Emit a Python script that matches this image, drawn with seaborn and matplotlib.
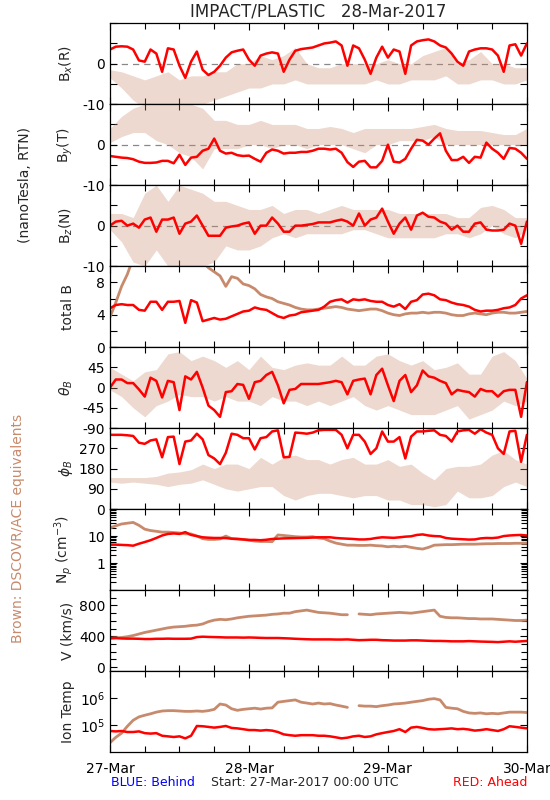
import numpy as np
import matplotlib
matplotlib.use('Agg')
import matplotlib.pyplot as plt
import seaborn as sns
from matplotlib.ticker import FixedLocator, MultipleLocator, LogLocator, NullFormatter

# hours since 27-Mar-2017 00:00 UTC
hours = np.arange(0, 73)
hours2 = np.arange(0, 73, 2)

day_ticks = [0, 24, 48, 72]
day_labels = ['27-Mar', '28-Mar', '29-Mar', '30-Mar']

# --- STEREO Ahead (red), hourly ---
bx_red = [3.5, 4.2, 4.3, 4.2, 3.5, 0.8, 0.5, 3.5, 2.5, -2.0, 3.8, 3.5, -0.5, -3.5, 0.5, 3.0,
          -1.5, -2.8, -2.0, -0.5, 1.5, 2.8, 3.2, 3.5, 1.0, -0.5, 2.0, 2.5, 2.8, 2.5, -2.0, 1.0,
          3.2, 3.6, 3.8, 4.0, 4.5, 5.0, 5.2, 5.5, 4.5, -0.5, 4.5, 3.8, 1.0, -2.5, 1.5, 4.2,
          1.5, 3.5, 3.0, -2.5, 4.5, 5.5, 5.8, 6.0, 5.5, 4.5, 4.0, 2.5, 0.5, -0.5, 3.0, 3.5,
          3.8, 3.8, 3.5, 2.0, -2.0, 4.5, 4.8, 2.0, 5.0]
by_red = [-2.8, -3.0, -3.2, -3.3, -3.6, -4.2, -4.5, -4.5, -4.4, -4.0, -4.0, -4.6, -2.5, -5.0,
          -3.2, -3.0, -1.5, -1.0, 1.5, -1.5, -2.2, -2.0, -2.6, -2.8, -2.7, -3.5, -4.2, -2.0,
          -1.2, -1.5, -2.2, -2.0, -2.0, -1.8, -1.8, -1.5, -1.0, -1.0, -1.2, -1.0, -2.0, -4.3,
          -5.5, -4.2, -4.0, -5.6, -5.6, -4.0, 0.0, -4.2, -4.4, -3.5, -1.0, 1.2, 1.0, 0.0, 1.5,
          2.8, -1.5, -3.8, -3.8, -3.0, -4.5, -3.0, -3.2, 0.5, -1.0, -2.0, -3.5, -0.8, -1.0,
          -2.0, -3.5]
bz_red = [0.0, 1.0, 1.2, 0.0, 0.5, -0.5, 1.5, 2.0, -1.5, 1.5, 1.5, 2.0, -2.0, 0.5, 1.0, 2.5,
          0.0, -2.5, -2.5, -2.5, -0.5, -0.2, 0.0, 0.5, 0.8, -2.0, 0.0, 0.0, 2.0, 0.5, -1.5, -1.5,
          0.0, 0.0, 0.2, 0.4, 0.8, 0.8, 0.8, 1.2, 1.5, 1.0, 0.0, 3.0, 0.0, 1.5, 2.0, 4.2,
          1.0, -2.0, 0.5, 2.0, -1.0, 2.5, 3.2, 2.2, 2.0, 1.0, 0.5, -1.0, 0.0, -1.5, -1.5, 0.5,
          0.8, -1.0, -1.2, -1.2, -1.0, 0.5, 0.0, -4.5, 1.0]
bt_red = [4.8, 5.2, 5.3, 5.2, 5.2, 4.6, 4.5, 5.6, 5.6, 4.6, 5.6, 5.6, 5.7, 3.0, 5.8, 5.5,
          3.2, 3.4, 3.6, 3.4, 3.5, 3.8, 4.1, 4.4, 4.5, 4.9, 4.7, 4.6, 4.2, 3.8, 3.6, 3.9,
          4.0, 4.3, 4.4, 4.5, 4.6, 5.0, 5.6, 5.8, 5.9, 5.5, 5.9, 5.8, 5.9, 5.7, 5.6, 5.6,
          5.2, 5.0, 5.3, 4.7, 5.6, 5.8, 6.5, 6.6, 6.4, 5.9, 5.8, 5.5, 5.3, 5.2, 5.0, 4.6,
          4.4, 4.5, 4.5, 4.6, 4.8, 4.9, 5.2, 6.0, 6.4]
theta_red = [0, 18, 18, 10, 10, -4, -20, 22, 15, -22, 15, 12, -50, 25, 18, 35,
             0, -40, -50, -65, -10, -8, 8, 6, -25, 12, 15, 28, 35, 5, -35, -5,
             -3, 8, 8, 8, 8, 10, 12, 15, 12, -15, 15, 18, 20, -15, 28, 42,
             5, -30, 15, 28, -10, 5, 38, 25, 22, 15, 10, -15, -5, -8, -10, -20,
             -3, -8, -8, -20, -8, -5, -5, -65, 12]
phi_red = [330, 330, 330, 328, 325, 295, 290, 305, 310, 230, 320, 322, 200, 300, 305, 335,
           310, 240, 225, 200, 250, 335, 330, 315, 315, 265, 315, 320, 345, 350, 230, 232,
           340, 338, 335, 340, 350, 352, 352, 352, 330, 270, 330, 330, 300, 245, 270, 345,
           300, 300, 320, 225, 322, 345, 345, 348, 350, 330, 325, 300, 345, 350, 352, 335,
           355, 340, 330, 270, 245, 345, 348, 210, 330]
np_red = [4.8, 4.8, 4.7, 4.6, 4.4, 5.2, 6.0, 7.0, 8.5, 10.5, 12, 12.5, 12, 14, 11, 10,
          9, 8.7, 8.5, 8.5, 8.4, 8.0, 7.8, 7.5, 7.2, 7.2, 7.0, 7.3, 7.8, 8.0, 8.2, 8.3,
          8.4, 8.5, 8.6, 8.8, 9.0, 9.0, 9.0, 8.5, 8.2, 8.0, 7.8, 7.5, 7.5, 7.8, 8.5, 9.0,
          8.8, 8.6, 9.0, 9.5, 9.8, 11, 11.5, 10.5, 10, 9.8, 8.5, 8.0, 7.8, 7.6, 7.4, 7.5,
          8.2, 8.5, 8.4, 8.8, 10, 10.5, 10.8, 11, 10.5]
v_red = [375, 378, 372, 370, 370, 368, 365, 365, 368, 368, 370, 368, 368, 368, 370, 390,
         395, 392, 390, 388, 385, 385, 385, 383, 385, 383, 380, 378, 378, 378, 375, 372,
         368, 365, 362, 360, 360, 360, 360, 358, 358, 360, 355, 350, 352, 355, 355, 350,
         348, 345, 345, 345, 348, 348, 345, 342, 340, 340, 338, 335, 335, 335, 338, 335,
         332, 330, 328, 325, 330, 335, 330, 335, 340]
t_red = [60e3, 58e3, 60e3, 55e3, 55e3, 58e3, 50e3, 48e3, 50e3, 40e3, 38e3, 36e3, 38e3, 32e3,
         40e3, 92e3, 90e3, 85e3, 80e3, 85e3, 92e3, 78e3, 75e3, 70e3, 65e3, 65e3, 62e3, 65e3,
         62e3, 55e3, 45e3, 42e3, 40e3, 42e3, 42e3, 42e3, 40e3, 40e3, 38e3, 35e3, 32e3, 34e3,
         38e3, 40e3, 36e3, 38e3, 45e3, 50e3, 55e3, 60e3, 70e3, 55e3, 80e3, 85e3, 78e3, 70e3,
         68e3, 70e3, 72e3, 75e3, 70e3, 72e3, 68e3, 62e3, 65e3, 70e3, 65e3, 60e3, 70e3, 90e3,
         85e3, 80e3, 75e3]

# --- DSCOVR/ACE equivalents (brown): scatter envelopes every 2 h ---
bx_brn_lo = [-3.5, -6, -9, -11, -11, -11, -11, -10, -10, -9, -8, -7, -6, -6, -5, -5, -4, -5, -5,
             -5, -5, -5, -5, -4, -5, -5, -4, -4, -4, -3, -5, -5, -4, -4, -5, -5, -4]
bx_brn_hi = [-1.5, -2, -3, -4, -3, -2, -4, -3, -3, -2, -2, 0, 0, 2, 1, 2, 4, 0, -1,
             -1, 0, 0, 0, 0, 1, 0, 0, 2, 3, 4, 0, 1, 3, 0, 0, -1, -1]
by_brn_lo = [0.5, 2, 3, 3, 1, 0, -2, -3, -6, -1, -1, -1, 0, 0, -1, 0, 0, -1, 0,
             0, 0, -1, -2, 0, 0, 1, 1, 1, 2, 0, 0, 0, 0, 0, 0, 0, 0]
by_brn_hi = [4, 7, 9, 10, 10, 10, 10, 10, 9, 6, 6, 5, 5, 6, 5, 5, 5, 4, 4,
             4.5, 4, 3, 4, 4, 4, 4, 4, 4.5, 5, 4, 3.5, 3.5, 3.5, 3, 2.5, 2.5, 4]
bz_brn_lo = [-1, -4, -9, -10, -6, -10, -10, -10, -10, -9, -5, -6, -6, -5, -3, -2, -3, -2, -2,
             -2, -2, -1, -1, -2, -3, -3, -3, -3, -3, -2, -2, -3, -2, 0, -2, -3, -1]
bz_brn_hi = [3, 3, 2, 8, 10, 6, 10, 9, 8, 6, 6, 5, 4, 4, 5, 3, 4, 4, 3,
             4, 5, 4, 4, 4, 4, 3, 3, 3, 3, 3, 2, 2, 4.5, 5, 4, 2, 2]
theta_brn_lo = [-5, -20, -45, -65, -40, -30, -15, -20, -20, -30, -20, -30, -30, -40, -20, -30,
                -30, -40, -30, -40, -30, -20, -40, -50, -40, -50, -60, -60, -60, -50, -40,
                -70, -60, -50, -30, -40, -30]
theta_brn_hi = [45, 30, 15, 35, 40, 75, 80, 60, 70, 60, 45, 60, 40, 70, 45, 40, 50, 55, 50,
                50, 70, 50, 50, 70, 75, 60, 50, 60, 40, 45, 55, 30, 30, 70, 80, 60, 20]
phi_brn_lo = [120, 115, 120, 115, 110, 100, 110, 115, 130, 110, 90, 80, 90, 100, 100, 60, 40,
              60, 70, 70, 60, 50, 60, 60, 40, 40, 20, 20, 10, 20, 80, 50, 50, 60, 100, 120, 100]
phi_brn_hi = [140, 140, 140, 140, 145, 160, 165, 175, 200, 180, 200, 200, 180, 230, 200, 230,
              240, 220, 220, 200, 220, 230, 200, 200, 220, 190, 200, 160, 130, 180, 190, 190,
              200, 240, 260, 220, 200]

# --- brown, hourly (smooth quantities) ---
bt_brn = [3.7, 5.5, 7.5, 9.0, 11, 11, 11, 11, 11, 11, 11, 11, 11, 11, 11, 11,
          10.5, 9.8, 9.3, 8.8, 7.5, 8.7, 8.5, 7.8, 7.6, 7.2, 6.5, 6.2, 6.0, 5.6, 5.4, 5.2,
          4.9, 4.7, 4.6, 4.6, 4.7, 4.8, 4.9, 5.0, 4.9, 4.7, 4.6, 4.5, 4.6, 4.7, 4.7, 4.5,
          4.2, 4.0, 3.9, 4.1, 4.2, 4.2, 4.3, 4.2, 4.3, 4.3, 4.2, 4.0, 3.9, 3.9, 4.1, 4.2,
          4.1, 4.0, 4.2, 4.3, 4.3, 4.2, 4.2, 4.3, 4.4]
np_brn = [20, 24, 28, 30, 32, 25, 18, 16, 15, 14, 14, 13.5, 13, 12, 12, 10,
          8, 7.5, 7.5, 7.8, 10, 8, 7.8, 7.5, 7.0, 6.5, 6.3, 6.3, 6.2, 11, 10.5, 10,
          9.5, 9.2, 9.2, 9.5, 8.5, 8.0, 6.5, 5.5, 5.0, 4.6, 4.6, 4.5, 4.5, 4.6, 4.4, 4.3,
          4.0, 4.2, 4.0, 4.2, 3.8, 3.5, 3.3, 3.8, 4.6, 4.7, 4.8, 4.8, 4.9, 5.0, 5.0, 5.0,
          5.1, 5.2, 5.2, 5.3, 5.3, 5.3, 5.4, 5.4, 5.4]
v_brn = [375, 380, 385, 395, 410, 430, 450, 465, 480, 495, 510, 520, 525, 530, 540, 545,
         560, 590, 610, 620, 615, 625, 640, 650, 660, 665, 670, 675, 685, 690, 700, 700,
         720, 730, 740, 725, 710, 705, 700, 690, 680, 680, np.nan, 690, 685, 680, 690, 695,
         700, 705, 710, 705, 700, 710, 720, 730, 740, 660, 645, 640, 640, 635, 630, 630,
         625, 625, 625, 620, 615, 610, 605, 605, 610]
t_brn = [22e3, 35e3, 50e3, 90e3, 150e3, 200e3, 230e3, 260e3, 300e3, 330e3, 340e3, 340e3,
         330e3, 320e3, 320e3, 330e3, 320e3, 340e3, 380e3, 600e3, 550e3, 400e3, 350e3, 380e3,
         400e3, 420e3, 390e3, 420e3, 430e3, 700e3, 750e3, 800e3, 850e3, 700e3, 650e3, 600e3,
         650e3, 600e3, 620e3, 550e3, 500e3, 450e3, np.nan, 520e3, 500e3, 500e3, 480e3, 520e3,
         550e3, 600e3, 620e3, 650e3, 700e3, 750e3, 800e3, 900e3, 950e3, 850e3, 450e3, 420e3,
         400e3, 320e3, 280e3, 270e3, 280e3, 260e3, 270e3, 260e3, 280e3, 300e3, 300e3, 300e3,
         290e3]

RED = '#FF0000'
BROWN = '#C88A6C'

sns.set_theme(style='white')
plt.rcParams['font.family'] = ['DejaVu Sans']
plt.rcParams['font.size'] = 10

fig, axes = plt.subplots(9, 1, figsize=(5.5, 8), dpi=100, sharex=True)
fig.subplots_adjust(left=0.2, right=0.958, top=0.971, bottom=0.06, hspace=0)

noisy = [
    (axes[0], bx_red, bx_brn_lo, bx_brn_hi),
    (axes[1], by_red, by_brn_lo, by_brn_hi),
    (axes[2], bz_red, bz_brn_lo, bz_brn_hi),
    (axes[4], theta_red, theta_brn_lo, theta_brn_hi),
    (axes[5], phi_red, phi_brn_lo, phi_brn_hi),
]
for ax, red, lo, hi in noisy:
    ax.fill_between(hours2, lo, hi, color=BROWN, alpha=0.32, lw=0)
    sns.lineplot(x=hours, y=red, color=RED, lw=1.8, ax=ax)

smooth = [
    (axes[3], bt_red, bt_brn),
    (axes[6], np_red, np_brn),
    (axes[7], v_red, v_brn),
    (axes[8], t_red, t_brn),
]
for ax, red, brn in smooth:
    ax.plot(hours, brn, color=BROWN, lw=2.0)
    sns.lineplot(x=hours, y=red, color=RED, lw=1.8, ax=ax)

for ax in axes[:3]:
    ax.axhline(0, color='#888888', lw=0.9, ls=(0, (5, 4)), zorder=0)
    ax.set_ylim(-10, 10)
    ax.yaxis.set_major_locator(FixedLocator([-10, -5, 0, 5, 10]))
    ax.set_yticklabels(['-10', '', '0', '', ''])

axes[3].set_ylim(0, 10)
axes[3].yaxis.set_major_locator(FixedLocator([0, 2, 4, 6, 8, 10]))
axes[3].set_yticklabels(['0', '', '4', '', '8', ''])

axes[4].set_ylim(-90, 90)
axes[4].yaxis.set_major_locator(FixedLocator([-90, -45, 0, 45, 90]))
axes[4].set_yticklabels(['-90', '-45', '0', '45', ''])

axes[5].set_ylim(0, 360)
axes[5].yaxis.set_major_locator(FixedLocator([0, 90, 180, 270, 360]))
axes[5].set_yticklabels(['0', '90', '180', '270', ''])

axes[6].set_yscale('log')
axes[6].set_ylim(0.1, 100)
axes[6].yaxis.set_major_locator(FixedLocator([0.1, 1, 10, 100]))
axes[6].set_yticklabels(['', '1', '10', ''])
axes[6].yaxis.set_minor_locator(LogLocator(base=10, subs=np.arange(2, 10)))
axes[6].yaxis.set_minor_formatter(NullFormatter())

axes[7].set_ylim(-50, 1000)
axes[7].yaxis.set_major_locator(FixedLocator([0, 400, 800]))
axes[7].set_yticklabels(['0', '400', '800'])
axes[7].yaxis.set_minor_locator(MultipleLocator(100))

axes[8].set_yscale('log')
axes[8].set_ylim(1e4, 1e7)
axes[8].yaxis.set_major_locator(FixedLocator([1e5, 1e6]))
axes[8].set_yticklabels(['10$^5$', '10$^6$'])
axes[8].yaxis.set_minor_locator(FixedLocator([]))

ylabels = ['B$_x$(R)', 'B$_y$(T)', 'B$_z$(N)', 'total B', r'$\theta_B$', r'$\phi_B$',
           'N$_p$ (cm$^{-3}$)', 'V (km/s)', 'Ion Temp']
for ax, lab in zip(axes, ylabels):
    ax.set_ylabel(lab, fontsize=10)
    ax.yaxis.set_label_coords(-0.085, 0.5)
    ax.set_xlim(0, 72)
    ax.xaxis.set_major_locator(FixedLocator(day_ticks))
    ax.xaxis.set_minor_locator(MultipleLocator(6))
    ax.tick_params(which='both', direction='in', top=True, right=True, bottom=True, left=True,
                   colors='black', labelsize=10, width=0.8)
    ax.tick_params(which='major', length=5)
    ax.tick_params(which='minor', length=4)
    for s in ax.spines.values():
        s.set_color('black')
        s.set_linewidth(0.9)

axes[-1].set_xticklabels(day_labels)
axes[-1].tick_params(axis='x', pad=7)

fig.text(318 / 550, 1 - 12 / 800, 'IMPACT/PLASTIC   28-Mar-2017', ha='center', va='center',
         fontsize=12)
fig.text(25 / 550, 1 - 185 / 800, '(nanoTesla, RTN)', rotation=90, ha='center', va='center',
         fontsize=10)
fig.text(18 / 550, 1 - 528 / 800, 'Brown: DSCOVR/ACE equivalents', rotation=90, ha='center',
         va='center', fontsize=10, color=BROWN)
fig.text(111 / 550, 1 - 783 / 800, 'BLUE: Behind', ha='left', va='center', fontsize=9,
         color='#0000FF')
fig.text(305 / 550, 1 - 783 / 800, 'Start: 27-Mar-2017 00:00 UTC', ha='center', va='center',
         fontsize=9)
fig.text(527 / 550, 1 - 783 / 800, 'RED: Ahead', ha='right', va='center', fontsize=9,
         color=RED)

fig.savefig('out.png', dpi=100)
